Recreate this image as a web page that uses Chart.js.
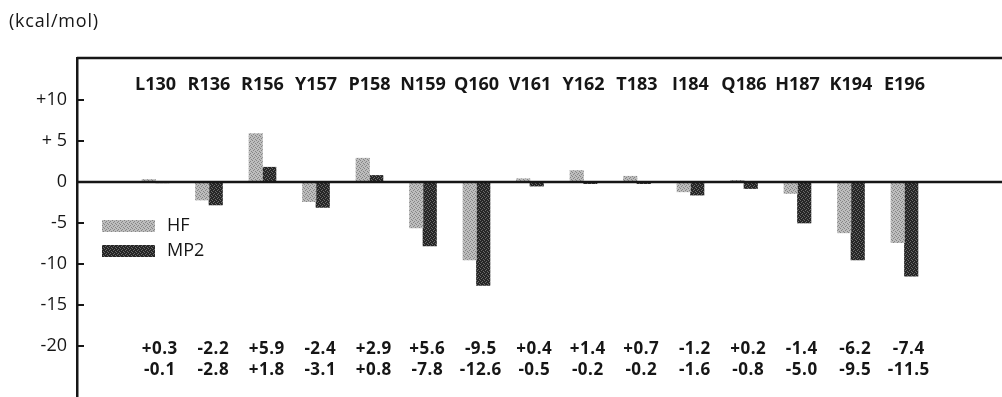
<!DOCTYPE html>
<html>
<head>
<meta charset="utf-8">
<script src="https://cdn.jsdelivr.net/npm/chart.js@4.4.1/dist/chart.umd.min.js"></script>
<style>
  html, body { margin: 0; padding: 0; background: #fff; overflow: hidden; }
  #wrap { position: relative; width: 1002px; height: 397px; }
</style>
</head>
<body>
<div id="wrap"><canvas id="myChart"></canvas></div>
<script>
const residues = ['L130', 'R136', 'R156', 'Y157', 'P158', 'N159', 'Q160', 'V161', 'Y162', 'T183', 'I184', 'Q186', 'H187', 'K194', 'E196']
// bar heights as drawn (the N159 HF bar points down although its printed value is +5.6)
const hfValues = [0.3, -2.2, 5.9, -2.4, 2.9, -5.6, -9.5, 0.4, 1.4, 0.7, -1.2, 0.2, -1.4, -6.2, -7.4]
const mp2Values = [-0.1, -2.8, 1.8, -3.1, 0.8, -7.8, -12.6, -0.5, -0.2, -0.2, -1.6, -0.8, -5.0, -9.5, -11.5]
// numbers printed under the plot
const hfLabels = ['+0.3', '-2.2', '+5.9', '-2.4', '+2.9', '+5.6', '-9.5', '+0.4', '+1.4', '+0.7', '-1.2', '+0.2', '-1.4', '-6.2', '-7.4']
const mp2Labels = ['-0.1', '-2.8', '+1.8', '-3.1', '+0.8', '-7.8', '-12.6', '-0.5', '-0.2', '-0.2', '-1.6', '-0.8', '-5.0', '-9.5', '-11.5']
const yTicks = [-20, -15, -10, -5, 0, 5, 10]
const yTickLabels = ['-20', '-15', '-10', '-5', '0', '+ 5', '+10']
const seriesNames = ['HF', 'MP2']

const ink = '#161616'
const fontName = "'Open Sans', 'DejaVu Sans', sans-serif"

const canvas = document.getElementById('myChart')
const ctx = canvas.getContext('2d')

// stippled fills like the printed figure
const makePattern = (base, dot) => {
    const p = document.createElement('canvas')
    p.width = 4
    p.height = 4
    const g = p.getContext('2d')
    g.fillStyle = base
    g.fillRect(0, 0, 4, 4)
    g.fillStyle = dot
    g.fillRect(0, 0, 1, 1)
    g.fillRect(2, 1, 1, 1)
    g.fillRect(1, 2, 1, 1)
    g.fillRect(3, 3, 1, 1)
    return ctx.createPattern(p, 'repeat')
}
const hfFill = makePattern('#bdbdbd', '#858585')
const mp2Fill = makePattern('#262626', '#6a6a6a')

const overlay = {
    id: 'overlay',
    afterDatasetsDraw(chart) {
        const c = chart.ctx
        const area = chart.chartArea
        const x = chart.scales.x
        const y = chart.scales.y
        c.save()
        c.strokeStyle = ink
        c.lineWidth = 2.5

        // top frame line and zero line
        c.beginPath()
        c.moveTo(area.left, area.top)
        c.lineTo(area.right, area.top)
        const y0 = y.getPixelForValue(0)
        c.moveTo(area.left, y0)
        c.lineTo(area.right, y0)
        c.stroke()

        // inward tick marks
        c.lineWidth = 2
        c.beginPath()
        yTicks.forEach(v => {
            const py = y.getPixelForValue(v)
            c.moveTo(area.left, py)
            c.lineTo(area.left + 7, py)
        })
        c.stroke()

        c.fillStyle = ink
        c.textAlign = 'center'
        c.textBaseline = 'middle'

        // residue names along the top
        c.font = `bold 18px ${fontName}`
        c.letterSpacing = '0px'
        residues.forEach((r, i) => {
            c.fillText(r, x.getPixelForValue(i), y.getPixelForValue(11.9))
        })

        // value rows under the plot
        c.font = `bold 17px ${fontName}`
        c.letterSpacing = '0.5px'
        hfLabels.forEach((t, i) => {
            c.fillText(t, x.getPixelForValue(i + 0.08), y.getPixelForValue(-20.4))
        })
        mp2Labels.forEach((t, i) => {
            c.fillText(t, x.getPixelForValue(i + 0.08), y.getPixelForValue(-23.0))
        })

        // legend
        const fills = [hfFill, mp2Fill]
        c.textAlign = 'left'
        c.font = `18px ${fontName}`
        c.letterSpacing = '0px'
        seriesNames.forEach((name, i) => {
            const top = area.top + 162 + i * 25
            c.fillStyle = fills[i]
            c.fillRect(area.left + 25, top, 53, 12)
            c.fillStyle = ink
            c.fillText(name, area.left + 90, top + 6)
        })

        // unit
        c.font = `18px ${fontName}`
        c.letterSpacing = '0.8px'
        c.fillText('(kcal/mol)', 9, 22)
        c.restore()
    }
}

new Chart(canvas, {
    type: 'bar',
    data: {
        datasets: [
            {
                label: seriesNames[0],
                data: hfValues.map((v, i) => ({ x: i, y: v })),
                backgroundColor: hfFill,
                barThickness: 13.5
            },
            {
                label: seriesNames[1],
                data: mp2Values.map((v, i) => ({ x: i, y: v })),
                backgroundColor: mp2Fill,
                barThickness: 13.5
            }
        ]
    },
    options: {
        responsive: true,
        maintainAspectRatio: false,
        animation: false,
        layout: { padding: { top: 58, left: 0, right: 0, bottom: 0 } },
        plugins: {
            legend: { display: false },
            tooltip: { enabled: false }
        },
        scales: {
            x: {
                type: 'linear',
                offset: false,
                min: -1.467,
                max: 15.823,
                display: false
            },
            y: {
                min: -26.22,
                max: 15.12,
                afterBuildTicks: axis => {
                    axis.ticks = yTicks.map(v => ({ value: v }))
                },
                afterFit: axis => {
                    axis.width = 77
                    axis.paddingTop = 0
                    axis.paddingBottom = 0
                },
                ticks: {
                    callback: v => yTickLabels[yTicks.indexOf(v)],
                    color: ink,
                    padding: 10,
                    font: { family: fontName, size: 18 }
                },
                grid: { display: false, drawTicks: false },
                border: { display: true, color: ink, width: 2.5 }
            }
        }
    },
    plugins: [overlay]
})
</script>
</body>
</html>
